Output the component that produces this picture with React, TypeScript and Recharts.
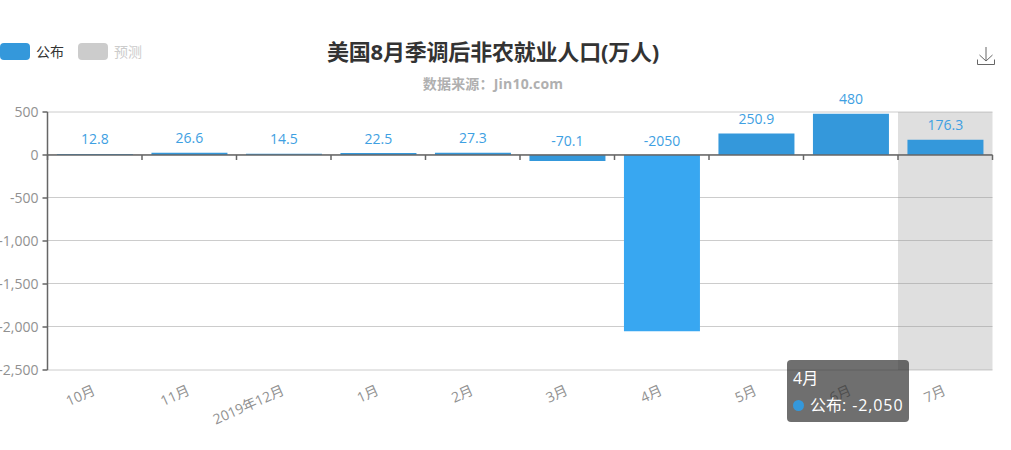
import React from "react";
import { BarChart, Bar, XAxis, YAxis, CartesianGrid, Cell, LabelList, ReferenceArea, ReferenceLine, Tooltip } from "recharts";

const categories = ["10月", "11月", "2019年12月", "1月", "2月", "3月", "4月", "5月", "6月", "7月"];
const published = [12.8, 26.6, 14.5, 22.5, 27.3, -70.1, -2050, 250.9, 480, 176.3];
const yTicks = [500, 0, -500, -1000, -1500, -2000, -2500];
const legendItems = [
  { name: "公布", swatch: "#3498db", text: "#333" },
  { name: "预测", swatch: "#ccc", text: "#ccc" },
];
const data = categories.map((month, i) => ({ month, published: published[i] }));

const FONT = '"Open Sans","Noto Sans CJK SC",sans-serif';
const BAR = "#3498db";
const BAR_HOVER = "#38a7f1";
const AXIS = "#666";
const LABEL = "#919191";
const WIDTH = 1011;
const HEIGHT = 450;
const TOP = 112;
const BOTTOM = 370;
const LEFT = 47.5;
const RIGHT = 992.5;
const ZERO = TOP + ((BOTTOM - TOP) * 500) / 3000;
const BAND = (RIGHT - LEFT) / categories.length;
const gridYs = yTicks.map((_, i) => {
  const y = TOP + (i * (BOTTOM - TOP)) / (yTicks.length - 1);
  return i === 0 || i === yTicks.length - 1 ? y : y - 0.5;
});

const fmt = (v: number) => v.toLocaleString("en-US");

function XTick(props: any) {
  const { x, payload, index } = props;
  const last = index === categories.length - 1;
  const labelY = BOTTOM + 20.5;
  return (
    <g>
      <line x1={x - BAND / 2} x2={x - BAND / 2} y1={ZERO} y2={ZERO + 5} stroke={AXIS} strokeWidth={1.5} />
      {last && <line x1={x + BAND / 2} x2={x + BAND / 2} y1={ZERO} y2={ZERO + 5} stroke={AXIS} strokeWidth={1.5} />}
      <text
        x={x}
        y={labelY}
        textAnchor="end"
        dominantBaseline="middle"
        fontSize={14}
        fill={LABEL}
        fontFamily={FONT}
        transform={`rotate(-24 ${x} ${labelY})`}
      >
        {payload.value}
      </text>
    </g>
  );
}

function ValueLabel(props: any) {
  const { x, y, width, height, value } = props;
  return (
    <text
      x={x + width / 2}
      y={Math.min(y, y + height) - 9.5}
      textAnchor="middle"
      fontSize={14}
      fill="#3ea0e2"
      fontFamily={FONT}
    >
      {value}
    </text>
  );
}

function TipBox({ active, payload, label }: any) {
  if (!active || !payload || !payload.length) return null;
  return (
    <div
      style={{
        width: 122,
        height: 62,
        boxSizing: "border-box",
        padding: "5px 6px",
        background: "rgba(50,50,50,0.7)",
        borderRadius: 4,
        color: "#fff",
        fontSize: 16,
        lineHeight: "27px",
        fontFamily: FONT,
        whiteSpace: "nowrap",
      }}
    >
      <div>{label}</div>
      <div>
        <span style={{ display: "inline-block", width: 11, height: 11, borderRadius: 6, background: BAR, marginRight: 6 }} />
        公布<span style={{ letterSpacing: 0.9 }}>: {fmt(payload[0].value)}</span>
      </div>
    </div>
  );
}

export default function App() {
  return (
    <div style={{ position: "absolute", left: 0, top: 0, width: WIDTH, height: HEIGHT, overflow: "hidden", background: "#fff", fontFamily: FONT }}>
      <BarChart
        width={WIDTH}
        height={HEIGHT}
        data={data}
        margin={{ top: TOP, right: WIDTH - RIGHT, bottom: 0, left: 0 }}
        barCategoryGap="10%"
      >
        <CartesianGrid horizontal vertical={false} stroke="#ccc" horizontalPoints={gridYs} />
        <XAxis dataKey="month" height={80} axisLine={false} tickLine={false} interval={0} tick={<XTick />} />
        <YAxis
          width={LEFT}
          domain={[-2500, 500]}
          ticks={yTicks}
          interval={0}
          tickFormatter={fmt}
          axisLine={{ stroke: AXIS, strokeWidth: 1.5 }}
          tickLine={{ stroke: AXIS, strokeWidth: 1.5 }}
          tickSize={5}
          tickMargin={4}
          tick={{ fontSize: 14, fill: LABEL, fontFamily: FONT }}
        />
        <Tooltip
          defaultIndex={6}
          position={{ x: 787, y: 360 }}
          cursor={false}
          isAnimationActive={false}
          content={<TipBox />}
          wrapperStyle={{ outline: "none" }}
        />
        <ReferenceLine y={0} stroke={AXIS} strokeWidth={1.5} />
        <Bar dataKey="published" isAnimationActive={false} fill={BAR} activeBar={false}>
          {data.map((d) => (
            <Cell key={d.month} fill={d.month === "4月" ? BAR_HOVER : BAR} />
          ))}
          <LabelList dataKey="published" content={<ValueLabel />} />
        </Bar>
        <ReferenceArea x1="7月" x2="7月" fill="rgb(150,150,150)" fillOpacity={0.3} stroke="none" />
      </BarChart>

      <div style={{ position: "absolute", left: 0, top: 41, display: "flex", alignItems: "center", height: 20 }}>
        {legendItems.map((it) => (
          <div key={it.name} style={{ display: "flex", alignItems: "center", marginRight: 14 }}>
            <span style={{ width: 30, height: 17, borderRadius: 4, background: it.swatch, marginRight: 6 }} />
            <span style={{ fontSize: 14, color: it.text }}>{it.name}</span>
          </div>
        ))}
      </div>

      <div style={{ position: "absolute", left: 0, width: WIDTH, top: 36, textAlign: "center", fontSize: 22, fontWeight: 700, color: "#333", lineHeight: "30px", letterSpacing: -0.2, transform: "translateX(-12.5px)" }}>
        美国8月季调后非农就业人口(万人)
      </div>
      <div style={{ position: "absolute", left: 0, width: WIDTH, top: 74, textAlign: "center", fontSize: 14, fontWeight: 700, color: "#b0b0b0", lineHeight: "20px", letterSpacing: 0.2, transform: "translateX(-12.5px)" }}>
        数据来源：Jin10.com
      </div>

      <svg style={{ position: "absolute", left: 976, top: 46 }} width={20} height={20} fill="none" stroke="#666" strokeWidth={1}>
        <path d="M1.5 13.5 V18.5 H18.5 V13.5 M10 1 V15 M3.5 9 L10 15 L16.5 9" />
      </svg>
    </div>
  );
}
